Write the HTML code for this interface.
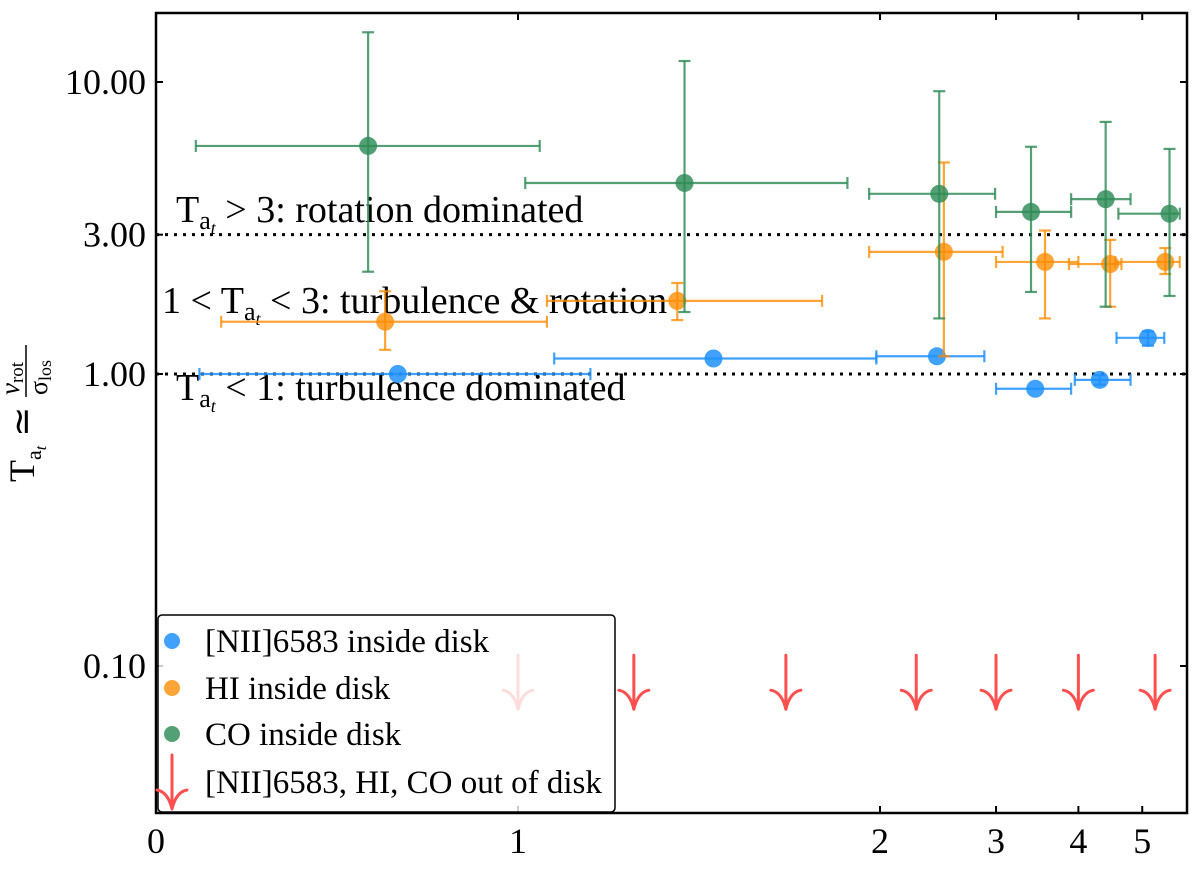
<!DOCTYPE html>
<html><head><meta charset="utf-8"><style>
html,body{margin:0;padding:0;background:#fff;}
svg{display:block;font-family:"Liberation Serif",serif;}
</style></head><body>
<svg id="chart" width="1200" height="869" viewBox="0 0 1200 869" xmlns="http://www.w3.org/2000/svg"></svg>
<script>
// ---- data ----
const nii_x = [0.668, 1.54, 2.44, 3.44, 4.31, 5.10];
const nii_y = [1.00, 1.13, 1.15, 0.89, 0.955, 1.33];
const nii_xlo = [0.12, 1.10, 1.99, 3.00, 3.95, 4.57];
const nii_xhi = [1.20, 1.99, 2.88, 3.90, 4.80, 5.40];
const nii_ylo = [1.00, 1.13, 1.15, 0.89, 0.92, 1.25];
const nii_yhi = [1.00, 1.13, 1.15, 0.89, 0.99, 1.40];

const hi_x = [0.633, 1.44, 2.50, 3.56, 4.47, 5.42];
const hi_y = [1.51, 1.78, 2.62, 2.42, 2.38, 2.42];
const hi_xlo = [0.18, 1.08, 1.97, 3.00, 3.87, 4.55];
const hi_xhi = [1.08, 1.84, 3.07, 4.00, 4.65, 5.70];
const hi_ylo = [1.21, 1.53, 1.15, 1.55, 1.70, 2.20];
const hi_yhi = [1.92, 2.05, 5.30, 3.10, 2.88, 2.70];

const co_x = [0.586, 1.46, 2.46, 3.39, 4.40, 5.50];
const co_y = [6.04, 4.51, 4.14, 3.59, 3.97, 3.54];
const co_xlo = [0.11, 1.02, 1.97, 3.00, 3.90, 4.60];
const co_xhi = [1.06, 1.91, 2.99, 3.90, 4.80, 5.70];
const co_ylo = [2.24, 1.63, 1.55, 1.91, 1.70, 1.85];
const co_yhi = [14.8, 11.8, 9.3, 6.0, 7.3, 5.9];

const out_x = [1.0, 1.32, 1.74, 2.27, 3.0, 4.0, 5.23];
const out_y = [0.088, 0.088, 0.088, 0.088, 0.088, 0.088, 0.088];

const xticks = [0, 1, 2, 3, 4, 5];
const xtickLabels = ["0", "1", "2", "3", "4", "5"];
const yticks = [10, 3, 1, 0.1];
const ytickLabels = ["10.00", "3.00", "1.00", "0.10"];
const hlines = [3, 1];

// ---- axes ----
const L = 156, R = 1187, T = 13, B = 813;
function X(v){ return v <= 2 ? L + 362*v : 880 + 659*Math.log10(v/2); }
function Y(v){ return 374 - 292*Math.log10(v); }

const NS = "http://www.w3.org/2000/svg";
const svg = document.getElementById('chart');
function mk(tag, attrs, parent){
  const e = document.createElementNS(NS, tag);
  for (const k in attrs) e.setAttribute(k, attrs[k]);
  (parent || svg).appendChild(e);
  return e;
}

hlines.forEach((h) => {
  const l = mk('line', {x1:L, x2:R, y1:Y(h), y2:Y(h), stroke:'#000', 'stroke-width':3, 'stroke-dasharray':'3,6'});
  
  
});

const SUB = '<tspan font-size="26" dy="7">a<tspan font-style="italic" font-size="18" dy="5">t</tspan></tspan>';
const regionTexts = [
  {x:176, y:222, html:'T' + SUB + '<tspan dy="-12"> &gt; 3: rotation dominated</tspan>', n:'label-rotation-dominated'},
  {x:162, y:313, html:'1 &lt; T' + SUB + '<tspan dy="-12"> &lt; 3: turbulence &amp; rotation</tspan>', n:'label-turbulence-rotation'},
  {x:176, y:400, html:'T' + SUB + '<tspan dy="-12"> &lt; 1: turbulence dominated</tspan>', n:'label-turbulence-dominated'}
];
regionTexts.forEach(r => {
  const t = mk('text', {x:r.x, y:r.y, 'font-size':38, fill:'#000'});
  t.innerHTML = r.html;
  
  
});

function series(xs, ys, xlo, xhi, ylo, yhi, color, name){
  const g = mk('g', {});
  
  
  for (let i = 0; i < xs.length; i++){
    const cx = X(xs[i]), cy = Y(ys[i]);
    const pg = mk('g', {stroke:color, 'stroke-width':2.2, fill:'none'}, g);
    
    
    const x1 = X(xlo[i]), x2 = X(xhi[i]);
    mk('line', {x1:x1, x2:x2, y1:cy, y2:cy}, pg);
    mk('line', {x1:x1, x2:x1, y1:cy-6, y2:cy+6}, pg);
    mk('line', {x1:x2, x2:x2, y1:cy-6, y2:cy+6}, pg);
    const y1 = Y(ylo[i]), y2 = Y(yhi[i]);
    if (Math.abs(y1 - y2) > 1){
      mk('line', {x1:cx, x2:cx, y1:y1, y2:y2}, pg);
      mk('line', {x1:cx-6, x2:cx+6, y1:y1, y2:y1}, pg);
      mk('line', {x1:cx-6, x2:cx+6, y1:y2, y2:y2}, pg);
    }
    const c = mk('circle', {cx:cx, cy:cy, r:9, fill:color, stroke:'none'}, g);
    
    
  }
}
series(nii_x, nii_y, nii_xlo, nii_xhi, nii_ylo, nii_yhi, 'rgba(30,144,255,0.85)', 'nii');
series(hi_x, hi_y, hi_xlo, hi_xhi, hi_ylo, hi_yhi, 'rgba(255,140,0,0.78)', 'hi');
series(co_x, co_y, co_xlo, co_xhi, co_ylo, co_yhi, 'rgba(46,139,87,0.82)', 'co');

function arrow(cx, cy, parent, nm){
  const g = mk('g', {stroke:'#ff4f4f', 'stroke-width':3, fill:'none', 'stroke-linecap':'round'}, parent);
  
  
  mk('line', {x1:cx, x2:cx, y1:cy-27, y2:cy+27}, g);
  mk('path', {d:`M${cx-15},${cy+8} Q${cx-4},${cy+10} ${cx},${cy+27} Q${cx+4},${cy+10} ${cx+15},${cy+8}`}, g);
  return g;
}
out_x.forEach((v, i) => arrow(X(v), Y(out_y[i]), svg, 'out-of-disk-arrow'));

const frame = mk('rect', {x:L, y:T, width:R-L, height:B-T, fill:'none', stroke:'#000', 'stroke-width':2.5});



xticks.forEach((v, i) => {
  const x = X(v);
  mk('line', {x1:x, x2:x, y1:B, y2:B-7, stroke:'#000', 'stroke-width':2});
  mk('line', {x1:x, x2:x, y1:T, y2:T+7, stroke:'#000', 'stroke-width':2});
  const t = mk('text', {x:x, y:853, 'font-size':36, 'text-anchor':'middle'});
  t.textContent = xtickLabels[i];
  
  
});
yticks.forEach((v, i) => {
  const y = Y(v);
  mk('line', {x1:L, x2:L+7, y1:y, y2:y, stroke:'#000', 'stroke-width':2});
  mk('line', {x1:R, x2:R-7, y1:y, y2:y, stroke:'#000', 'stroke-width':2});
  const t = mk('text', {x:146, y:y+12, 'font-size':36, 'text-anchor':'end'});
  t.textContent = ytickLabels[i];
  
  
});

// y-axis title
const yt = mk('text', {transform:'translate(34,482) rotate(-90)', 'font-size':36});
yt.innerHTML = 'T<tspan font-size="22" dy="7">a<tspan font-style="italic" font-size="16" dy="5">t</tspan></tspan><tspan dy="-12"> ≃ </tspan>';


const yf = mk('g', {transform:'translate(27,395) rotate(-90)'});


const num = mk('text', {x:0, y:-8, 'font-size':27, 'font-style':'italic'}, yf);
num.innerHTML = 'v<tspan font-style="normal" font-size="19" dy="4">rot</tspan>';
mk('line', {x1:-2, x2:50, y1:-1, y2:-1, stroke:'#000', 'stroke-width':1.5}, yf);
const den = mk('text', {x:0, y:20, 'font-size':26}, yf);
den.innerHTML = 'σ<tspan font-size="18" dy="4">los</tspan>';

// legend
const lg = mk('g', {});


mk('rect', {x:158, y:615, width:457, height:197, rx:4, fill:'rgba(255,255,255,0.8)', stroke:'#000', 'stroke-width':1.5}, lg);
const entries = [
  {c:'rgba(30,144,255,0.85)', t:'[NII]6583 inside disk', y:641},
  {c:'rgba(255,140,0,0.78)', t:'HI inside disk', y:688},
  {c:'rgba(46,139,87,0.82)', t:'CO inside disk', y:734},
];
entries.forEach(e => {
  const eg = mk('g', {}, lg);
  
  
  mk('circle', {cx:172, cy:e.y, r:8, fill:e.c}, eg);
  const t = mk('text', {x:205, y:e.y+11, 'font-size':33}, eg);
  t.textContent = e.t;
});
const eg4 = mk('g', {}, lg);


arrow(172, 782, eg4, 'legend-arrow-marker');
const t4 = mk('text', {x:205, y:793, 'font-size':33}, eg4);
t4.textContent = '[NII]6583, HI, CO out of disk';
</script>
</body></html>
